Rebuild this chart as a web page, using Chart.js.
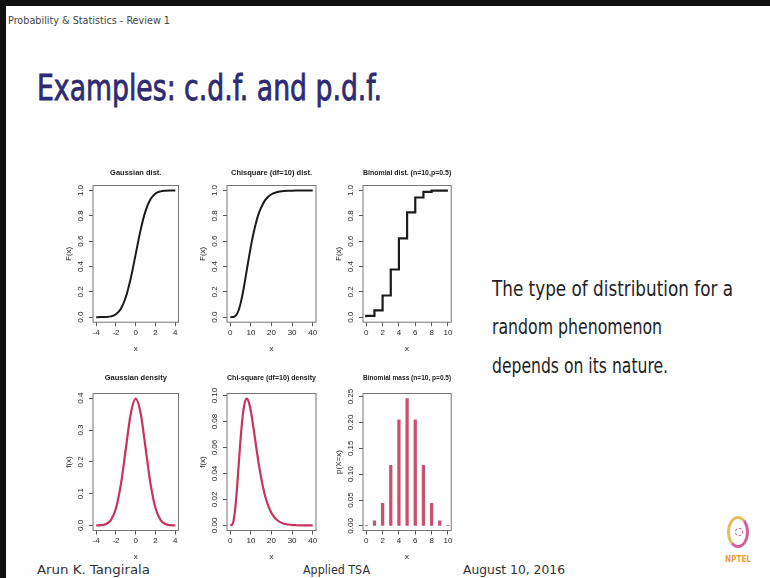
<!DOCTYPE html>
<html>
<head>
<meta charset="utf-8">
<script src="https://cdn.jsdelivr.net/npm/chart.js@4.4.1/dist/chart.umd.min.js"></script>
<style>
  html, body { margin: 0; padding: 0; }
  body { width: 770px; height: 578px; position: relative; overflow: hidden; background: #fff;
         font-family: "DejaVu Sans Condensed", "DejaVu Sans", sans-serif; }
  .frame-top { position: absolute; left: 0; top: 0; width: 770px; height: 6px; background: #111; }
  .frame-left { position: absolute; left: 0; top: 0; width: 6px; height: 578px; background: #111; }
  .txt { position: absolute; white-space: nowrap; line-height: 1; transform-origin: 0 50%; }
  .plot { position: absolute; }
  .logo { position: absolute; left: 727px; top: 516px; width: 22px; height: 32px; border-radius: 50%;
          border: 3px solid; border-color: #e0c060 #d060a0 #d060a0 #e0c060; box-sizing: border-box; }
  .logo::after { content: ""; position: absolute; left: 5px; top: 9px; width: 6px; height: 6px;
                 border: 1px dashed #c06090; border-radius: 50%; }
</style>
</head>
<body>
<div class="frame-top"></div>
<div class="frame-left"></div>

<div class="txt" data-w="162" style="left:8px;top:15px;font-size:11px;color:#444">Probability &amp; Statistics - Review 1</div>
<div class="txt" data-w="345" style="left:37px;top:70px;font-size:36px;color:#2e2b72;-webkit-text-stroke:0.8px #2e2b72">Examples: c.d.f. and p.d.f.</div>

<div class="txt" data-w="241" style="left:492px;top:279px;font-size:21px;color:#1e1e1e">The type of distribution for a</div>
<div class="txt" data-w="170" style="left:492px;top:317px;font-size:21px;color:#1e1e1e">random phenomenon</div>
<div class="txt" data-w="176" style="left:492px;top:356px;font-size:21px;color:#1e1e1e">depends on its nature.</div>

<div class="txt" data-w="113" style="left:37px;top:564px;font-size:12.5px;color:#333">Arun K. Tangirala</div>
<div class="txt" data-w="67" style="left:303px;top:564px;font-size:12.5px;color:#333">Applied TSA</div>
<div class="txt" data-w="102" style="left:463px;top:564px;font-size:12.5px;color:#333">August 10, 2016</div>

<div class="logo"></div>
<div class="txt" data-w="26" style="left:725px;top:556px;font-size:8px;font-weight:bold;color:#e6a040">NPTEL</div>

<div class="plot" id="p1"><canvas id="c1"></canvas></div>
<div class="plot" id="p2"><canvas id="c2"></canvas></div>
<div class="plot" id="p3"><canvas id="c3"></canvas></div>
<div class="plot" id="p4"><canvas id="c4"></canvas></div>
<div class="plot" id="p5"><canvas id="c5"></canvas></div>
<div class="plot" id="p6"><canvas id="c6"></canvas></div>

<script>
// values
const gaussX   = [-4, -3.5, -3, -2.5, -2, -1.5, -1, -0.5, 0, 0.5, 1, 1.5, 2, 2.5, 3, 3.5, 4];
const gaussCdf = [0.00003, 0.0002, 0.0013, 0.0062, 0.0228, 0.0668, 0.1587, 0.3085, 0.5,
                  0.6915, 0.8413, 0.9332, 0.9772, 0.9938, 0.9987, 0.9998, 1.0];
const gaussPdf = [0.0001, 0.0009, 0.0044, 0.0175, 0.054, 0.1295, 0.242, 0.3521, 0.3989,
                  0.3521, 0.242, 0.1295, 0.054, 0.0175, 0.0044, 0.0009, 0.0001];

const chiX   = [0, 1, 2, 3, 4, 5, 6, 7, 8, 9, 10, 11, 12, 13, 14, 16, 18, 20, 22, 24, 26, 28, 30, 32, 34, 36, 38, 40];
const chiCdf = [0, 0.0002, 0.0037, 0.0186, 0.0527, 0.1088, 0.1847, 0.2746, 0.3712, 0.4679, 0.5595, 0.6425,
                0.7149, 0.7763, 0.8270, 0.9004, 0.9450, 0.9707, 0.9849, 0.9924, 0.9963, 0.9982, 0.9991,
                0.9996, 0.9998, 0.9999, 1.0, 1.0];
const chiPdf = [0, 0.0008, 0.0077, 0.0235, 0.0451, 0.0668, 0.0840, 0.0944, 0.0977, 0.0949, 0.0877, 0.0779,
                0.0669, 0.0559, 0.0456, 0.0286, 0.0169, 0.0095, 0.0051, 0.0027, 0.0013, 0.0007, 0.0003,
                0.00015, 0.00007, 0.00003, 0.00001, 0.00001];

const binomX   = [0, 1, 2, 3, 4, 5, 6, 7, 8, 9, 10];
const binomCdf = [0.001, 0.0107, 0.0547, 0.1719, 0.377, 0.623, 0.8281, 0.9453, 0.9893, 0.999, 1.0];
const binomPmf = [0.001, 0.0098, 0.0439, 0.1172, 0.2051, 0.2461, 0.2051, 0.1172, 0.0439, 0.0098, 0.001];

// tick labels
const gaussXTicks  = [-4, -2, 0, 2, 4];
const chiXTicks    = [0, 10, 20, 30, 40];
const binomXTicks  = [0, 2, 4, 6, 8, 10];
const cdfYTicks    = [0, 0.2, 0.4, 0.6, 0.8, 1.0];
const gaussPdfYTicks = [0, 0.1, 0.2, 0.3, 0.4];
const chiPdfYTicks   = [0, 0.02, 0.04, 0.06, 0.08, 0.10];
const binomPmfYTicks = [0, 0.05, 0.10, 0.15, 0.20, 0.25];

const FONT = "'Liberation Sans', Arial, sans-serif";
const INK = "#1f1f1f";
const PDF_RED = "#c9345e";

/* ---------- slide text: squeeze to the widths in the picture ---------- */
document.querySelectorAll(".txt").forEach(el => {
  const w = +el.dataset.w;
  const real = el.getBoundingClientRect().width;
  el.style.transform = `scaleX(${w / real})`;
});

/* ---------- R style plot boxes ---------- */
const boxPlugin = {
  id: "rbox",
  afterDatasetsDraw(chart) {
    const { ctx, chartArea: a } = chart;
    ctx.save();
    ctx.strokeStyle = "#777";
    ctx.lineWidth = 1;
    ctx.strokeRect(a.left, a.top, a.right - a.left, a.bottom - a.top);
    ctx.restore();
  }
};

const measure = document.createElement("canvas").getContext("2d");
function widest(labels) {
  measure.font = "8px " + FONT;
  return Math.max(...labels.map(t => measure.measureText(t).width));
}
function padRange(arr) {
  const lo = Math.min(...arr), hi = Math.max(...arr), d = (hi - lo) * 0.04;
  return [lo - d, hi + d];
}

const Y_W = 32, X_H = 34, PAD_R = 10;

function makePlot(n, o) {
  const holder = document.getElementById("p" + n);
  const top = o.titleY - 4.5 - 2;
  holder.style.left = (o.box[0] - Y_W) + "px";
  holder.style.top = top + "px";
  holder.style.width = (o.box[1] - o.box[0] + Y_W + PAD_R) + "px";
  holder.style.height = (o.box[3] - top + X_H) + "px";

  const [xmin, xmax] = padRange(o.xs);
  const [ymin, ymax] = padRange(o.ys);
  const yLabels = o.yTicks.map(v => v.toFixed(o.yDec));
  const yPad = 12.5 - 4 - widest(yLabels) / 2;

  const grid = { display: true, drawOnChartArea: false, drawTicks: true, tickLength: 4, color: "#555", offset: false };
  const tickFont = { family: FONT, size: 8 };

  const ds = {
    data: o.xs.map((x, i) => ({ x, y: o.ys[i] })),
    borderColor: o.color, backgroundColor: o.color,
    borderWidth: o.lw, pointRadius: 0, fill: false,
  };
  if (o.type === "line") {
    if (o.stepped) ds.stepped = "after";
    else ds.cubicInterpolationMode = "monotone";
  } else {
    ds.barThickness = 2.6;
    ds.borderWidth = 0;
  }

  new Chart(document.getElementById("c" + n), {
    type: o.type,
    data: { datasets: [ds] },
    options: {
      responsive: true, maintainAspectRatio: false, animation: false,
      layout: { padding: { right: PAD_R, left: 0, top: 0, bottom: 0 } },
      plugins: {
        legend: { display: false }, tooltip: { enabled: false },
        title: { display: true, text: o.title, fullSize: false, color: "#1a1a1a",
                 font: { family: FONT, size: 7.5, weight: "bold" },
                 padding: { top: 2, bottom: o.box[2] - top - 11 } },
      },
      scales: {
        x: {
          type: "linear", min: xmin, max: xmax, offset: false,
          afterBuildTicks: s => { s.ticks = o.xTicks.map(v => ({ value: v })); },
          afterFit: s => { s.height = X_H; },
          grid, border: { display: false },
          ticks: { font: tickFont, color: INK, padding: 1.5, maxRotation: 0, autoSkip: false,
                   callback: v => String(v) },
          title: { display: true, text: "x", color: INK, font: tickFont, padding: { top: 0, bottom: 3 } },
        },
        y: {
          type: "linear", min: ymin, max: ymax,
          afterBuildTicks: s => { s.ticks = o.yTicks.map(v => ({ value: v })); },
          afterFit: s => { s.width = Y_W; },
          grid, border: { display: false },
          ticks: { font: tickFont, color: INK, padding: yPad, minRotation: 90, maxRotation: 90,
                   crossAlign: "center", autoSkip: false, callback: v => v.toFixed(o.yDec) },
          title: { display: true, text: o.yLabel, color: INK, font: tickFont, padding: { top: 3, bottom: 0 } },
        },
      },
    },
    plugins: [boxPlugin],
  });
}

const TOP = [172, 185, 321.7], BOT = [377, 393, 530];
const COLS = [[92.5, 178], [227, 316], [362.5, 450.7]];

makePlot(1, { type: "line", xs: gaussX, ys: gaussCdf, color: "#1a1a1a", lw: 2,
  title: "Gaussian dist.", yLabel: "F(x)", xTicks: gaussXTicks, yTicks: cdfYTicks, yDec: 1,
  titleY: TOP[0], box: [COLS[0][0], COLS[0][1], TOP[1], TOP[2]] });
makePlot(2, { type: "line", xs: chiX, ys: chiCdf, color: "#1a1a1a", lw: 2,
  title: "Chisquare (df=10) dist.", yLabel: "F(x)", xTicks: chiXTicks, yTicks: cdfYTicks, yDec: 1,
  titleY: TOP[0], box: [COLS[1][0], COLS[1][1], TOP[1], TOP[2]] });
makePlot(3, { type: "line", stepped: true, xs: binomX, ys: binomCdf, color: "#1a1a1a", lw: 2.2,
  title: "Binomial dist. (n=10,p=0.5)", yLabel: "F(x)", xTicks: binomXTicks, yTicks: cdfYTicks, yDec: 1,
  titleY: TOP[0], box: [COLS[2][0], COLS[2][1], TOP[1], TOP[2]] });
makePlot(4, { type: "line", xs: gaussX, ys: gaussPdf, color: PDF_RED, lw: 2.2,
  title: "Gaussian density", yLabel: "f(x)", xTicks: gaussXTicks, yTicks: gaussPdfYTicks, yDec: 1,
  titleY: BOT[0], box: [COLS[0][0], COLS[0][1], BOT[1], BOT[2]] });
makePlot(5, { type: "line", xs: chiX, ys: chiPdf, color: PDF_RED, lw: 2.2,
  title: "Chi-square (df=10) density", yLabel: "f(x)", xTicks: chiXTicks, yTicks: chiPdfYTicks, yDec: 2,
  titleY: BOT[0], box: [COLS[1][0], COLS[1][1], BOT[1], BOT[2]] });
makePlot(6, { type: "bar", xs: binomX, ys: binomPmf, color: "#c9506f", lw: 0,
  title: "Binomial mass (n=10, p=0.5)", yLabel: "p(X=x)", xTicks: binomXTicks, yTicks: binomPmfYTicks, yDec: 2,
  titleY: BOT[0], box: [COLS[2][0], COLS[2][1], BOT[1], BOT[2]] });
</script>
</body>
</html>
